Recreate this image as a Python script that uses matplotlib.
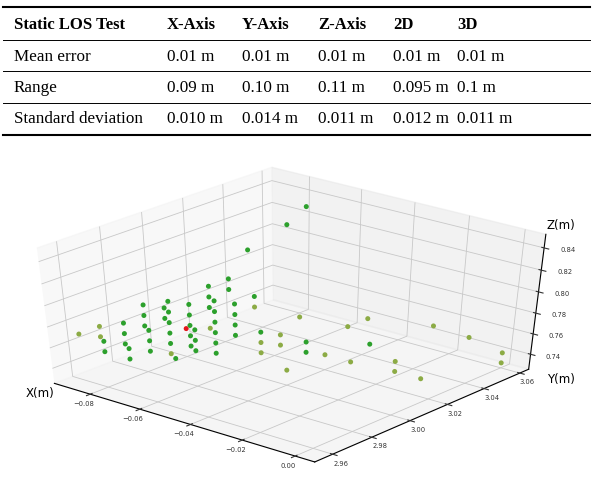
import matplotlib
matplotlib.use("Agg")
import matplotlib.pyplot as plt
from matplotlib.lines import Line2D

# Table values
header = ["Static LOS Test", "X-Axis", "Y-Axis", "Z-Axis", "2D", "3D"]
mean_error = ["Mean error", "0.01 m", "0.01 m", "0.01 m", "0.01 m", "0.01 m"]
value_range = ["Range", "0.09 m", "0.10 m", "0.11 m", "0.095 m", "0.1 m"]
std_dev = ["Standard deviation", "0.010 m", "0.014 m", "0.011 m", "0.012 m", "0.011 m"]

# Measured positions (m)
x = [-0.09, -0.09, -0.09, -0.08, -0.08, -0.08, -0.08, -0.08, -0.07, -0.07,
     -0.08, -0.08, -0.08, -0.07, -0.07, -0.07, -0.07, -0.08, -0.07, -0.08,
     -0.07, -0.07, -0.07, -0.07, -0.06, -0.07, -0.07, -0.088, -0.07, -0.07,
     -0.06, -0.07, -0.06, -0.06, -0.07, -0.07, -0.06, -0.07, -0.06, -0.07,
     -0.06, -0.06, -0.06, -0.06, -0.07, -0.07, -0.06, -0.06, -0.06, -0.06,
     -0.06, -0.06, -0.07, -0.07, -0.07, -0.05, -0.05, -0.05, -0.05, -0.05,
     -0.05, -0.04, -0.04, -0.04, -0.04, -0.01, -0.01, -0.03, -0.03, -0.02,
     -0.02, -0.01, -0.02, 0.00, 0.00, 0.00]
y = [2.96, 2.97, 2.97, 2.96, 2.96, 2.97, 2.97, 2.97, 2.96, 2.96,
     2.98, 2.98, 2.98, 2.97, 2.97, 2.97, 2.98, 2.99, 2.98, 2.99,
     2.98, 2.98, 2.98, 2.98, 2.97, 2.99, 2.99, 3.01, 2.99, 2.99,
     2.98, 2.99, 2.98, 2.98, 3.00, 3.00, 2.99, 3.00, 2.99, 3.00,
     2.99, 2.99, 2.99, 2.99, 3.01, 3.01, 3.00, 3.00, 3.00, 3.00,
     3.01, 3.01, 3.02, 3.04, 3.05, 3.00, 3.00, 3.00, 3.01, 3.01,
     3.02, 3.01, 3.01, 3.02, 3.00, 2.99, 3.00, 3.03, 3.02, 3.03,
     3.03, 3.03, 3.05, 3.04, 3.06, 3.06]
z = [0.77, 0.77, 0.76, 0.77, 0.76, 0.78, 0.77, 0.76, 0.77, 0.76,
     0.79, 0.78, 0.77, 0.78, 0.77, 0.76, 0.80, 0.78, 0.79, 0.77,
     0.78, 0.77, 0.76, 0.75, 0.76, 0.79, 0.78, 0.74, 0.77, 0.76,
     0.78, 0.75, 0.77, 0.76, 0.80, 0.79, 0.80, 0.78, 0.79, 0.76,
     0.78, 0.77, 0.76, 0.75, 0.80, 0.79, 0.79, 0.78, 0.77, 0.76,
     0.79, 0.78, 0.82, 0.83, 0.84, 0.77, 0.76, 0.75, 0.76, 0.75,
     0.77, 0.76, 0.75, 0.74, 0.74, 0.81, 0.81, 0.75, 0.74, 0.74,
     0.73, 0.73, 0.76, 0.77, 0.74, 0.73]
# g = green, o = olive, r = red
group = ["o", "o", "o", "g", "g", "g", "g", "g", "g", "g",
         "g", "g", "g", "g", "g", "g", "g", "g", "g", "g",
         "g", "g", "g", "o", "g", "g", "g", "r", "g", "g",
         "g", "g", "g", "g", "g", "g", "g", "g", "g", "o",
         "g", "g", "g", "g", "g", "g", "g", "g", "g", "g",
         "g", "o", "g", "g", "g", "g", "o", "o", "o", "o",
         "o", "g", "g", "o", "o", "o", "o", "g", "o", "o",
         "o", "o", "o", "o", "o", "o"]
palette = {"g": "#2ca02c", "o": "#8cab45", "r": "#e3161b"}

W, H = 593, 480
fig = plt.figure(figsize=(W / 100, H / 100), dpi=100)

# ---- table ----
col_x = [14, 167, 242, 318, 393, 457]
row_y = [25, 57, 88, 119]
for r, row in enumerate([header, mean_error, value_range, std_dev]):
    for c, txt in enumerate(row):
        fig.text(col_x[c] / W, 1 - row_y[r] / H, txt, ha="left", va="center",
                 family="Liberation Serif",
                 fontsize=12 if r == 0 else 12.3,
                 weight="bold" if r == 0 else "normal")
for yy, lw in [(7, 1.5), (40, 0.7), (71, 0.7), (103, 0.7), (135, 1.5)]:
    fig.add_artist(Line2D([3 / W, 590 / W], [1 - yy / H] * 2, lw=lw, color="black"))

# ---- 3d scatter ----
ax = fig.add_axes([-8.2 / W, 16.8 / H, 586.0 / W, 296.2 / H], projection="3d")
# keep the axes stretched to its rectangle (old mplot3d look) instead of square
ax.apply_aspect = lambda position=None: None
ax.patch.set_visible(False)
ax.set_box_aspect((1, 1, 1))
ax.view_init(elev=40, azim=-50)

ax.scatter(x, y, z, s=13, c=[palette[g] for g in group], depthshade=False, linewidths=0)

ax.set_xlim(-0.0947, 0.0073)
ax.set_ylim(2.951, 3.065)
ax.set_zlim(0.725, 0.852)
ax.set_xticks([-0.08, -0.06, -0.04, -0.02, 0.00])
ax.set_yticks([2.96, 2.98, 3.00, 3.02, 3.04, 3.06])
ax.set_zticks([0.74, 0.76, 0.78, 0.80, 0.82, 0.84])
ax.tick_params(labelsize=4.9, colors="#333333")
ax.xaxis.set_tick_params(pad=-3)
ax.yaxis.set_tick_params(pad=-3)
ax.zaxis.set_tick_params(pad=0)
for a in (ax.xaxis, ax.yaxis, ax.zaxis):
    a._axinfo["grid"]["linewidth"] = 0.6
    a._axinfo["grid"]["color"] = "#c8c8c8"

fig.text(40 / W, 1 - 393 / H, "X(m)", fontsize=8.5, ha="center", va="center")
fig.text(561 / W, 1 - 380 / H, "Y(m)", fontsize=8.5, ha="center", va="center")
fig.text(561 / W, 1 - 225 / H, "Z(m)", fontsize=8.5, ha="center", va="center")

fig.savefig("out.png", dpi=100)
